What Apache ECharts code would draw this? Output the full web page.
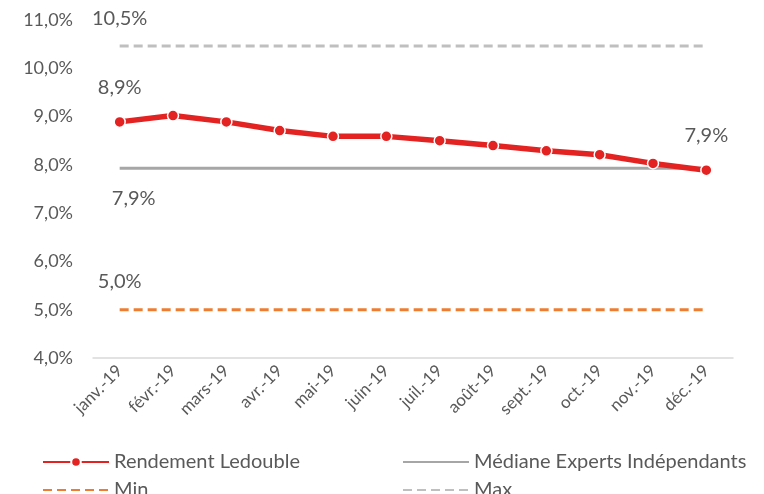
<!DOCTYPE html>
<html>
<head>
<meta charset="utf-8">
<script src="https://cdn.jsdelivr.net/npm/echarts@6/dist/echarts.min.js"></script>
<style>
  html, body { margin: 0; padding: 0; background: #fff; }
  #chart { width: 764px; height: 494px; }
</style>
</head>
<body>
<div id="chart"></div>
<script>
// Monthly categories
const months = ['janv.-19', 'févr.-19', 'mars-19', 'avr.-19', 'mai-19', 'juin-19',
                'juil.-19', 'août-19', 'sept.-19', 'oct.-19', 'nov.-19', 'déc.-19'];
// Rendement Ledouble (%)
const rendement = [8.89, 9.02, 8.89, 8.71, 8.59, 8.59, 8.50, 8.40, 8.29, 8.21, 8.03, 7.89];
// Reference levels (%)
const medianeValue = 7.93;
const minValue = 5.0;
const maxValue = 10.46;
// Y axis range
const yMin = 4, yMax = 11, yStep = 1;

const flat = v => months.map(() => v);
const pct = v => v.toFixed(1).replace('.', ',') + '%';

const FONT = 'Lato';
const TXT = '#595959';
const labelStyle = { fontFamily: FONT, fontSize: 20, color: TXT };

// Value label pinned to the first point of a flat reference line
function firstPointLabel(value, position, offset) {
  return {
    symbol: 'circle', symbolSize: 0, silent: true, animation: false,
    data: [{
      coord: [0, value], value: value,
      label: Object.assign({ show: true, position: position, distance: 18, offset: offset || [0, 0],
                             formatter: p => pct(p.value) }, labelStyle)
    }]
  };
}

const legendText = { fontFamily: FONT, fontSize: 20, color: TXT };
function legendAt(name, left, top, hideSymbol) {
  return {
    left: left, top: top, itemWidth: 66, itemHeight: 12, itemGap: 0, textStyle: legendText,
    data: [hideSymbol ? { name: name, itemStyle: { opacity: 0 } } : name]
  };
}

const chart = echarts.init(document.getElementById('chart'));
chart.setOption({
  animation: false,
  textStyle: { fontFamily: FONT },
  grid: { left: 93, right: 31, top: 20, bottom: 136 },
  xAxis: {
    type: 'category',
    data: months,
    boundaryGap: true,
    axisLine: { lineStyle: { color: '#D9D9D9', width: 1.5 } },
    axisTick: { show: false },
    axisLabel: { rotate: 45, color: TXT, fontSize: 17, fontFamily: FONT, margin: 10, interval: 0 }
  },
  yAxis: {
    type: 'value',
    min: yMin, max: yMax, interval: yStep,
    axisLine: { show: false },
    axisTick: { show: false },
    splitLine: { show: false },
    axisLabel: { color: TXT, fontSize: 18, fontFamily: FONT, margin: 20, formatter: v => pct(v) }
  },
  legend: [
    legendAt('Rendement Ledouble', 37, 447, false),
    legendAt('Médiane Experts Indépendants', 397, 447, true),
    legendAt('Min', 37, 475, true),
    legendAt('Max', 397, 475, true)
  ],
  series: [
    {
      name: 'Max', type: 'line',
      data: flat(maxValue),
      symbol: 'none',
      lineStyle: { color: '#BFBFBF', width: 3, type: [9, 5] },
      itemStyle: { color: '#BFBFBF' },
      markPoint: firstPointLabel(maxValue, 'top')
    },
    {
      name: 'Min', type: 'line',
      data: flat(minValue),
      symbol: 'none',
      lineStyle: { color: '#ED7D31', width: 3, type: [9, 5] },
      itemStyle: { color: '#ED7D31' },
      markPoint: firstPointLabel(minValue, 'top')
    },
    {
      name: 'Médiane Experts Indépendants', type: 'line',
      data: flat(medianeValue),
      symbol: 'none',
      lineStyle: { color: '#A6A6A6', width: 3 },
      itemStyle: { color: '#A6A6A6' },
      markPoint: firstPointLabel(medianeValue, 'bottom', [14, 2])
    },
    {
      name: 'Rendement Ledouble', type: 'line',
      data: rendement.map((v, i) => (i === 0 || i === rendement.length - 1)
        ? { value: v, label: Object.assign({ show: true, position: 'top', distance: 18,
                                             formatter: p => pct(p.value) }, labelStyle) }
        : v),
      symbol: 'circle', symbolSize: 11,
      lineStyle: { color: '#E32322', width: 5.5 },
      itemStyle: { color: '#E32322', borderColor: '#fff', borderWidth: 1.5 },
      z: 5
    }
  ]
});
</script>
</body>
</html>
